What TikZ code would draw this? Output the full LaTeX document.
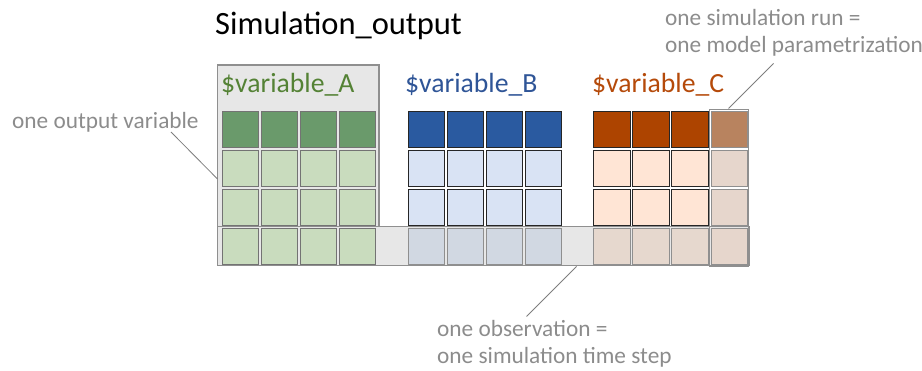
\documentclass[tikz,border=0pt]{standalone}
\usepackage{fontspec}
\setmainfont{Carlito}
\definecolor{frame}{HTML}{8F8F8F}
\definecolor{bandfill}{HTML}{E7E7E7}
\definecolor{note}{HTML}{8C8C8C}
\definecolor{greenhead}{HTML}{6A9A6B}
\definecolor{greenbody}{HTML}{C9DCBE}
\definecolor{greentext}{HTML}{548235}
\definecolor{bluehead}{HTML}{2A5AA0}
\definecolor{bluebody}{HTML}{D9E3F4}
\definecolor{blueband}{HTML}{D1D8E2}
\definecolor{bluetext}{HTML}{2F5597}
\definecolor{orangehead}{HTML}{AD4400}
\definecolor{orangebody}{HTML}{FFE5D5}
\definecolor{orangeband}{HTML}{E6D8CE}
\definecolor{orangetext}{HTML}{B54A0A}
\definecolor{runhead}{HTML}{B8835F}
\definecolor{runbody}{HTML}{E6D6CC}
\tikzset{
  cell/.style={line width=0.9pt},
  frm/.style={draw=frame, line width=1.5pt},
  notetext/.style={text=note, font=\fontsize{23.3}{27}\selectfont, anchor=base west, inner sep=0pt, align=left},
  vartext/.style={font=\fontsize{27.7}{30}\selectfont, anchor=base west, inner sep=0pt},
  leader/.style={draw=note!90!black, line width=0.8pt},
}
\begin{document}
\begin{tikzpicture}[x=1pt,y=-1pt]
\useasboundingbox (0,0) rectangle (922,371);
% column frame of the first variable and the observation band
\fill[bandfill] (217.5,65) rectangle (379,265.5);
\draw[frm] (217.5,65) rectangle (379,265.5);
\fill[bandfill] (217.5,226.5) rectangle (749,265.5);
\draw[frm] (217.5,226.5) rectangle (749,265.5);
% variable A cells
\foreach \x in {222,261,300,339}{
  \draw[cell, draw=black!55, fill=greenhead] (\x,111) rectangle ++(36.5,36.5);
  \foreach \y in {150,189,228}
    \draw[cell, draw=black!55, fill=greenbody] (\x,\y) rectangle ++(36.5,36.5);
}
% variable B cells
\foreach \x in {408,447,486,525}{
  \draw[cell, draw=black!85, fill=bluehead] (\x,111) rectangle ++(36.5,36.5);
  \foreach \y in {150,189}
    \draw[cell, draw=black!85, fill=bluebody] (\x,\y) rectangle ++(36.5,36.5);
  \draw[cell, draw=frame, fill=blueband] (\x,228) rectangle ++(36.5,36.5);
}
% variable C cells
\foreach \x in {593.5,632.5,671.5}{
  \draw[cell, draw=black!85, fill=orangehead] (\x,111) rectangle ++(36.5,36.5);
  \foreach \y in {150,189}
    \draw[cell, draw=black!85, fill=orangebody] (\x,\y) rectangle ++(36.5,36.5);
  \draw[cell, draw=frame, fill=orangeband] (\x,228) rectangle ++(36.5,36.5);
}
% one simulation run column
\draw[cell, draw=frame, fill=runhead] (711,111) rectangle ++(36,36.5);
\foreach \y in {150,189,228}
  \draw[cell, draw=frame, fill=runbody] (711,\y) rectangle ++(36,36.5);
\draw[frm] (709.5,109.5) rectangle (748.5,266);
% titles
\node[font=\fontsize{32.5}{36}\selectfont, anchor=base west, inner sep=0pt] (title) at (215,35) {Simulation\_output};
\node[vartext, text=greentext] (varA) at (221,92.5) {\$variable\_A};
\node[vartext, text=bluetext] (varB) at (405,92.5) {\$variable\_B};
\node[vartext, text=orangetext] (varC) at (592,92.5) {\$variable\_C};
% annotations (base anchor sits on the last line)
\node[notetext] (noteVar) at (12,129) {one output variable};
\node[notetext] (noteRun) at (665,53) {one simulation run =\\one model parametrization};
\node[notetext] (noteObs) at (437,364) {one observation =\\one simulation time step};
% leader lines
\coordinate (varEnd) at (217.5,179);
\coordinate (varStart) at (171,132);
\coordinate (runEnd) at (728.5,108.5);
\coordinate (runStart) at (773.5,63.5);
\coordinate (obsEnd) at (576.5,266.5);
\coordinate (obsStart) at (526.5,316.5);
\draw[leader] (varStart) -- (varEnd);
\draw[leader] (runStart) -- (runEnd);
\draw[leader] (obsStart) -- (obsEnd);
\end{tikzpicture}
\end{document}
